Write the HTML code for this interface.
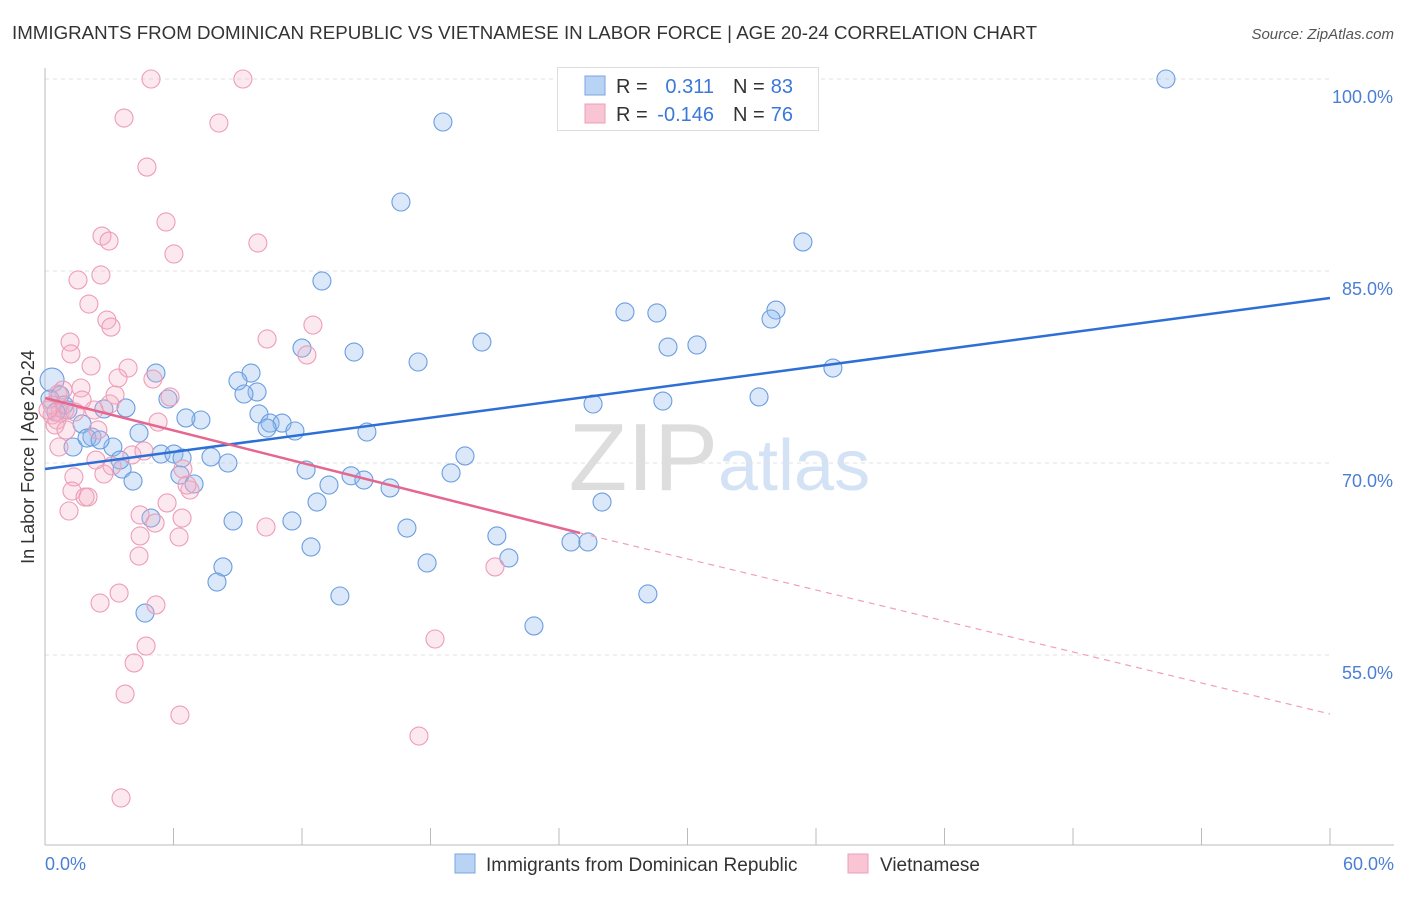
<!DOCTYPE html>
<html><head><meta charset="utf-8"><style>
body{margin:0;background:#fff;font-family:"Liberation Sans",sans-serif;}
svg text{font-family:"Liberation Sans",sans-serif;}
</style></head><body>
<svg id="chart" width="1406" height="892">
<text x="12" y="39" font-size="18" fill="#333" textLength="1025" lengthAdjust="spacingAndGlyphs">IMMIGRANTS FROM DOMINICAN REPUBLIC VS VIETNAMESE IN LABOR FORCE | AGE 20-24 CORRELATION CHART</text>
<text x="1394" y="39" font-size="15" fill="#555" font-style="italic" text-anchor="end">Source: ZipAtlas.com</text>
<text x="718" y="490" font-size="96" fill="#ddd" text-anchor="end" font-family="Liberation Serif">ZIP</text>
<text x="718" y="490" font-size="72" fill="#d3e2f5">atlas</text>
<g id="grid"></g>
<g id="axes"></g>
<g id="pts"></g>
<g id="trend"></g>
<text transform="translate(34,457) rotate(-90)" font-size="18" fill="#333" text-anchor="middle">In Labor Force | Age 20-24</text>
<text x="45" y="870" font-size="18" fill="#4a7fd4">0.0%</text>
<text x="1394" y="870" font-size="18" fill="#4a7fd4" text-anchor="end">60.0%</text>
<g>
<rect x="557.5" y="67.5" width="261" height="63" fill="#fff" stroke="#ddd"/>
<rect x="585" y="76" width="20" height="19" fill="#b9d3f5" stroke="#7aa6e0"/>
<rect x="585" y="104" width="20" height="19" fill="#f9c5d5" stroke="#eba0b8"/>
<text x="616" y="93" font-size="20" fill="#333">R =</text>
<text x="714" y="93" font-size="20" fill="#3b78d8" text-anchor="end">0.311</text>
<text x="733" y="93" font-size="20" fill="#333">N =</text>
<text x="793" y="93" font-size="20" fill="#3b78d8" text-anchor="end">83</text>
<text x="616" y="121" font-size="20" fill="#333">R =</text>
<text x="714" y="121" font-size="20" fill="#3b78d8" text-anchor="end">-0.146</text>
<text x="733" y="121" font-size="20" fill="#333">N =</text>
<text x="793" y="121" font-size="20" fill="#3b78d8" text-anchor="end">76</text>
</g>
<g>
<rect x="455" y="854" width="20" height="19" fill="#b9d3f5" stroke="#7aa6e0"/>
<text x="486" y="871" font-size="19" fill="#333">Immigrants from Dominican Republic</text>
<rect x="848" y="854" width="20" height="19" fill="#f9c5d5" stroke="#eba0b8"/>
<text x="880" y="871" font-size="19" fill="#333">Vietnamese</text>
</g>
</svg>
<script>
const yTicks=[100,85,70,55];
const yTickLabels=["100.0%","85.0%","70.0%","55.0%"];
const xTicks=[0,6,12,18,24,30,36,42,48,54,60];
const blueX=[52.34,18.58,16.62,35.39,12.93,27.08,28.57,34.13,33.90,20.40,29.09,30.44,12.00,14.43,17.42,36.79,5.18,9.62,9.01,0.33,9.90,9.29,5.74,25.59,28.85,33.34,3.78,2.75,1.07,9.99,7.28,6.58,10.51,11.07,10.37,11.67,1.73,4.39,15.03,2.19,1.31,3.17,5.42,6.02,6.40,7.75,8.54,19.61,12.19,3.60,18.96,6.30,14.29,14.89,6.96,13.26,16.11,4.11,12.70,26.01,4.95,8.78,11.53,16.90,21.10,24.56,25.35,12.42,21.66,17.84,8.31,8.03,28.15,13.77,4.67,22.83,1.96,0.70,0.23,2.57,0.89,3.50,0.51];
const blueY=[100,96.64,90.39,87.27,84.22,81.80,81.72,81.95,81.25,79.45,79.06,79.22,78.98,78.67,77.89,77.42,77.03,77.03,76.41,76.48,75.55,75.39,75.0,74.61,74.84,75.16,74.30,74.22,74.14,73.83,73.36,73.52,73.12,73.12,72.73,72.5,73.05,72.34,72.42,72.03,71.25,71.25,70.70,70.70,70.39,70.47,70.0,70.55,69.45,69.53,69.22,69.06,69.0,68.67,68.36,68.28,68.05,68.59,66.95,66.95,65.70,65.47,65.47,64.92,64.30,63.83,63.83,63.44,62.58,62.19,61.88,60.70,59.77,59.61,58.28,57.27,71.95,75.31,75.0,71.8,74.53,70.23,73.98];
const pinkX=[4.95,9.24,3.69,8.12,4.76,5.65,2.66,2.99,9.94,6.02,2.61,1.54,2.05,2.89,3.08,12.51,10.37,1.17,1.21,12.23,2.15,3.88,5.04,3.41,1.68,0.84,0.61,5.84,3.27,1.73,3.03,2.29,0.70,0.93,0.33,1.40,0.56,5.28,0.47,0.65,2.38,4.06,4.62,6.44,3.13,2.75,1.35,6.77,6.63,1.26,1.87,2.01,5.70,1.12,4.44,5.14,6.40,4.44,6.26,10.32,4.39,21.01,2.57,3.46,5.18,4.72,4.16,18.21,3.74,6.30,17.46,3.55,0.33,0.14,0.98,2.47];
const pinkY=[100,100,96.95,96.56,93.12,88.83,87.73,87.34,87.19,86.33,84.69,84.30,82.42,81.17,80.62,80.78,79.69,79.45,78.52,78.44,77.58,77.42,76.56,76.64,75.86,75.70,75.39,75.16,75.31,74.92,74.61,74.14,73.91,74.14,73.75,73.98,73.36,73.20,72.97,71.25,70.23,70.63,70.94,69.53,69.77,69.14,68.91,67.89,68.28,67.81,67.34,67.34,66.88,66.25,65.94,65.31,65.70,64.30,64.22,65.0,62.73,61.88,59.06,59.84,58.91,55.70,54.38,56.25,51.95,50.31,48.67,43.83,74.53,74.14,72.58,72.58];
const blueTrendX=[0,60], blueTrendY=[69.53,82.89];
const pinkTrendX=[0,24.98,60], pinkTrendY=[75.08,64.53,50.39];
const xs=v=>45+v*1285/60, ys=v=>79+(100-v)*12.8;
const NS="http://www.w3.org/2000/svg";
function mk(p,t,a){const e=document.createElementNS(NS,t);for(const k in a)e.setAttribute(k,a[k]);p.appendChild(e);return e;}
const grid=document.getElementById('grid'),axes=document.getElementById('axes'),pts=document.getElementById('pts'),tr=document.getElementById('trend');
yTicks.forEach((v,i)=>{
 const l=mk(grid,'line',{x1:45,x2:1330,y1:ys(v),y2:ys(v),stroke:'#e0e0e0','stroke-dasharray':'4,4'});
 
 
 const t=mk(grid,'text',{x:1393,y:ys(v)+24,'font-size':18,fill:'#4a7fd4','text-anchor':'end'});
 t.textContent=yTickLabels[i];
 
 
});
const ya=mk(axes,'line',{x1:45,x2:45,y1:68,y2:845,stroke:'#bbb'});


const xa=mk(axes,'line',{x1:45,x2:1394,y1:845,y2:845,stroke:'#bbb'});


xTicks.forEach(v=>{
 const t=mk(axes,'line',{x1:xs(v),x2:xs(v),y1:828,y2:845,stroke:'#bbb'});
 
 
});
blueX.forEach((v,i)=>{
 const c=mk(pts,'circle',{cx:xs(v),cy:ys(blueY[i]),r:(v<0.4&&blueY[i]>76)?12:9,fill:'rgba(150,188,238,0.35)',stroke:'#6b9de0','stroke-width':1.1});
 
 
});
pinkX.forEach((v,i)=>{
 const c=mk(pts,'circle',{cx:xs(v),cy:ys(pinkY[i]),r:9,fill:'rgba(245,175,198,0.28)',stroke:'#ee9cb7','stroke-width':1.1});
 
 
});
const bl=mk(tr,'line',{x1:xs(blueTrendX[0]),y1:ys(blueTrendY[0]),x2:xs(blueTrendX[1]),y2:ys(blueTrendY[1]),stroke:'#2e6fd6','stroke-width':2.5});


const pl=mk(tr,'line',{x1:xs(pinkTrendX[0]),y1:ys(pinkTrendY[0]),x2:xs(pinkTrendX[1]),y2:ys(pinkTrendY[1]),stroke:'#e5678f','stroke-width':2.5});


const pd=mk(tr,'line',{x1:xs(pinkTrendX[1]),y1:ys(pinkTrendY[1]),x2:xs(pinkTrendX[2]),y2:ys(pinkTrendY[2]),stroke:'#eea0b8','stroke-width':1.2,'stroke-dasharray':'6,5'});


</script>
</body></html>
